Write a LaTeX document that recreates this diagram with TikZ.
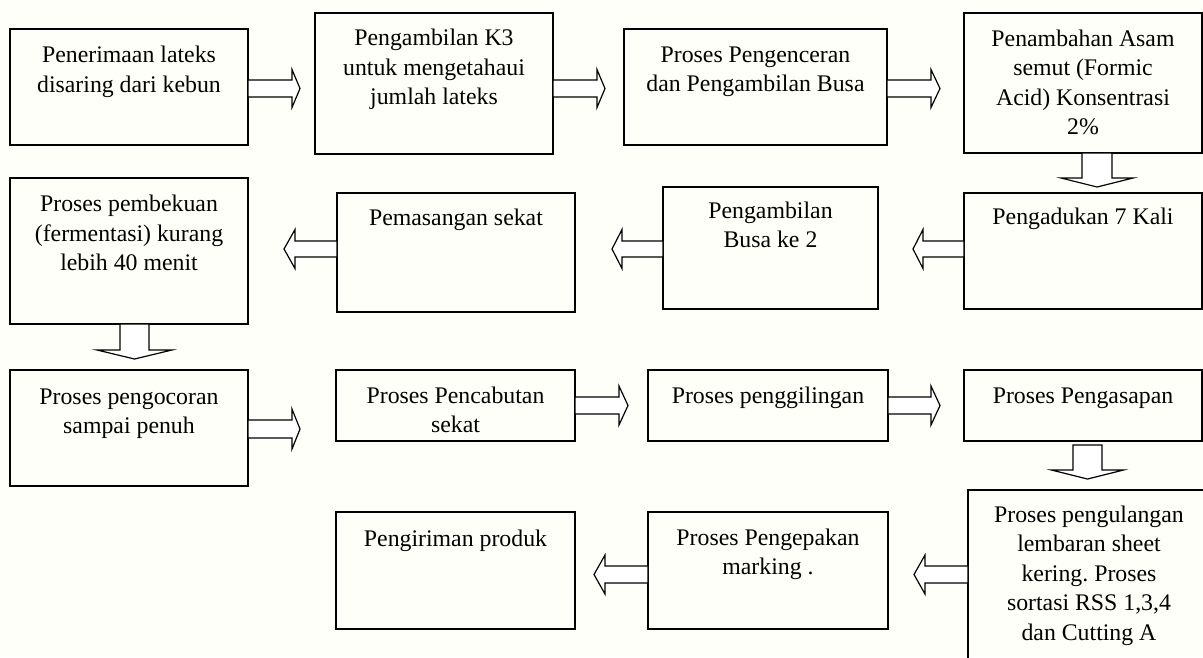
\documentclass[tikz,border=0pt]{standalone}
\usepackage{fontspec}
\setmainfont{Liberation Serif}
\usetikzlibrary{calc}
\frenchspacing
\newcommand\rarr[5]{\draw[blockarrow] (#1) +(0,-#3) -- +({#2-#5},-#3) -- +({#2-#5},-#4) -- +(#2,0) -- +({#2-#5},#4) -- +({#2-#5},#3) -- +(0,#3) -- cycle;}
\newcommand\larr[5]{\draw[blockarrow] (#1) +(0,-#3) -- +({-(#2-#5)},-#3) -- +({-(#2-#5)},-#4) -- +(-#2,0) -- +({-(#2-#5)},#4) -- +({-(#2-#5)},#3) -- +(0,#3) -- cycle;}
\newcommand\darr[5]{\draw[blockarrow] (#1) +(-#3,0) -- +(-#3,{#2-#5}) -- +(-#4,{#2-#5}) -- +(0,#2) -- +(#4,{#2-#5}) -- +(#3,{#2-#5}) -- +(#3,0) -- cycle;}
\newcommand\procbox[7]{%
  \node[procbox, minimum width={(#4-#2)*1pt}, minimum height={(#5-#3)*1pt}] (#1) at ({(#2+#4)/2},{(#3+#5)/2}) {};
  \node[proctext] (#1t) at ({(#2+#4)/2},#6) {\parbox[t]{320pt}{\centering\frenchspacing #7}};}
\begin{document}
\begin{tikzpicture}[x=1pt,y=-1pt,
  procbox/.style={draw=black, line width=1.3pt, inner sep=0pt, outer sep=0pt},
  proctext/.style={inner sep=0pt, anchor=base, font=\fontsize{23.8pt}{29.5pt}\selectfont},
  blockarrow/.style={draw=black, fill=white, line width=1.2pt, line join=miter}]
\useasboundingbox (0,0) rectangle (1203,657);
\fill[white!97!yellow!60!white] (0,0) rectangle (1203,657);
\clip (0,0) rectangle (1203,657);
% row 1
\procbox{b1}{10}{29}{248}{145}{62.5}{Penerimaan lateks\\disaring dari kebun}
\procbox{b2}{315}{13}{553}{154}{45.5}{Pengambilan K3\\untuk mengetahaui\\jumlah lateks}
\procbox{b3}{624}{29}{887}{145}{62}{Proses Pengenceran\\dan Pengambilan Busa}
\procbox{b4}{964}{13}{1202}{153}{46}{Penambahan Asam\\semut (Formic\\Acid) Konsentrasi\\2\%}
% row 2
\procbox{b5}{964}{193}{1202}{309}{224}{Pengadukan 7 Kali}
\procbox{b6}{663}{187}{878}{309}{218}{Pengambilan\\Busa ke 2}
\procbox{b7}{337}{193}{575}{312}{225}{Pemasangan sekat}
\procbox{b8}{10}{178}{248}{324}{211.5}{Proses pembekuan\\(fermentasi) kurang\\lebih 40 menit}
% row 3
\procbox{b9}{10}{370}{248}{486}{404}{Proses pengocoran\\sampai penuh}
\procbox{b10}{336}{370}{575}{441}{403}{Proses Pencabutan\\sekat}
\procbox{b11}{648}{370}{888}{441}{403}{Proses penggilingan}
\procbox{b12}{964}{370}{1202}{441}{403}{Proses Pengasapan}
% row 4
\procbox{b13}{968}{490}{1210}{675}{522}{Proses pengulangan\\lembaran sheet\\kering. Proses\\sortasi RSS 1,3,4\\dan Cutting A}
\procbox{b14}{648}{512}{888}{629}{545}{Proses Pengepakan\\marking .}
\procbox{b15}{336}{512}{575}{629}{546}{Pengiriman produk}
% arrows
\rarr{b1.east |- 0,88.5}{52}{8.5}{19}{8}
\rarr{b2.east |- 0,88.5}{52}{8.5}{19}{8}
\rarr{b3.east |- 0,88.5}{53}{8.5}{19}{9}
\darr{1097,0 |- b4.south}{34}{15}{36}{9}
\larr{b5.west |- 0,249}{51}{8}{19.5}{10}
\larr{b6.west |- 0,249}{51}{8}{19.5}{10}
\larr{b7.west |- 0,249}{53}{8}{19.5}{11}
\darr{134.5,0 |- b8.south}{35}{14.5}{37.5}{9}
\rarr{b9.east |- 0,429}{52}{9}{20}{8}
\rarr{b10.east |- 0,405.5}{53}{8.5}{19.5}{9}
\rarr{b11.east |- 0,405.5}{52}{8.5}{19.5}{9}
\darr{$(1087.5,0 |- b12.south)+(0,4)$}{34}{14.5}{36}{9}
\larr{b13.west |- 0,574.5}{54}{8.5}{19.5}{11}
\larr{b14.west |- 0,574.5}{54}{8.5}{19.5}{11}
\end{tikzpicture}
\end{document}
